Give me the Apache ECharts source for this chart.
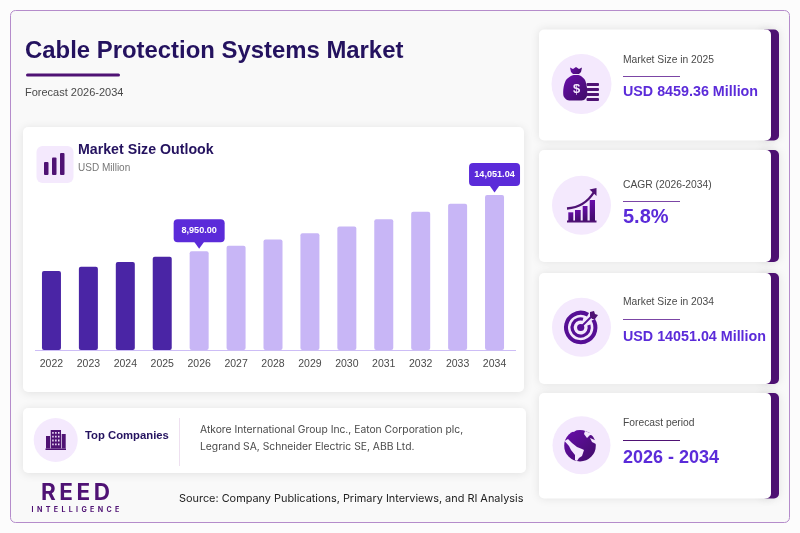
<!DOCTYPE html>
<html><head><meta charset="utf-8">
<style>html,body{margin:0;padding:0;background:#fff}#c{width:800px;height:533px}</style>
<script src="https://cdn.jsdelivr.net/npm/echarts@6/dist/echarts.min.js"></script>
</head><body><div id="c"></div>
<script>
const years=['2022','2023','2024','2025','2026','2027','2028','2029','2030','2031','2032','2033','2034'];
const historical=[7160,7550,7980,8459.36,null,null,null,null,null,null,null,null,null];
const forecast=[null,null,null,null,8950,9455,10020,10600,11195,11870,12540,13265,14051.04];
const calloutYears=['2026','2034'];
const statLabels=['Market Size in 2025','CAGR (2026-2034)','Market Size in 2034','Forecast period'];
const statValues=['USD 8459.36 Million','5.8%','USD 14051.04 Million','2026 - 2034'];
const companies=['Atkore International Group Inc., Eaton Corporation plc,','Legrand SA, Schneider Electric SE, ABB Ltd.'];

const SANS='"Liberation Sans",Arial,sans-serif', INTER='Inter,sans-serif';
const NAVY='#24125f',PURPLE='#4f1274',VIOLET='#5b2bd9',TINT='#f4e9fd';
const iconFill={type:'linear',x:0,y:0,x2:1,y2:1,colorStops:[{offset:0,color:'#6a0dad'},{offset:1,color:'#3f0d66'}]};
const g=[];
const rect=(x,y,w,h,r,fill,extra)=>g.push({type:'rect',shape:{x,y,width:w,height:h,r},style:Object.assign({fill},extra||{})});
const card=(x,y,w,h,r)=>rect(x,y,w,h,r,'#fff',{shadowBlur:10,shadowColor:'rgba(0,0,0,0.10)',shadowOffsetY:1});
const txt=(x,y,text,size,fill,weight,font,align)=>g.push({type:'text',x,y,style:{text,fontSize:size,fill,fontWeight:weight||'normal',fontFamily:font||SANS,align:align||'left',verticalAlign:'middle'}});
const circ=(cx,cy,r,fill)=>g.push({type:'circle',shape:{cx,cy,r},style:{fill}});
const poly=(points,fill,smooth)=>g.push({type:'polygon',shape:{points,smooth:smooth||0},style:{fill}});

// frame
rect(10.5,10.5,779,512,5,'#f9f9f9',{stroke:'#b58ccb',lineWidth:1});
txt(25,51,'Cable Protection Systems Market',23.9,NAVY,'bold');
rect(26,73.5,94,3,1.5,PURPLE);
txt(25,92.5,'Forecast 2026-2034',11,'#4a4a4a');

// chart card
card(23,127,501,265,5);
rect(36.5,146,37,37,6,TINT);
[[44,162,4.5,13],[52,157.5,4.5,17.5],[60,153,4.5,22]].forEach(b=>rect(b[0],b[1],b[2],b[3],1,PURPLE));
txt(78,150,'Market Size Outlook',14.2,NAVY,'bold');
txt(78,168,'USD Million',10,'#777');
rect(35,350,481,1,0,'#cdbdf6');

// companies card
card(23,408,503,65,5);
circ(55.7,440,22,TINT);
rect(46,436,4,12.5,0,PURPLE);rect(50.7,430,10.3,18.5,0,PURPLE);rect(61.7,434,4,14.5,0,PURPLE);rect(45.5,448.5,20.5,1.5,0,PURPLE);
for(let i=0;i<4;i++)for(let j=0;j<3;j++)rect(52.2+j*2.9,432+i*3.8,1.5,1.8,0,'#f0e2fa');
txt(85,435.5,'Top Companies',11.3,NAVY,'bold');
rect(179,418,1,48,0,'#eee0f0');
txt(200,430,companies[0],10.3,'#4a4a4a','normal',INTER);
txt(200,446.5,companies[1],10.3,'#4a4a4a','normal',INTER);

// logo + source
txt(75.5,493.5,'R\u2009E\u2009E\u2009D',22.5,PURPLE,'bold',INTER,'center');
txt(75.5,509.5,'I\u2009\u2009\u2009N\u2009\u2009\u2009T\u2009\u2009\u2009E\u2009\u2009\u2009L\u2009\u2009\u2009L\u2009\u2009\u2009I\u2009\u2009\u2009G\u2009\u2009\u2009E\u2009\u2009\u2009N\u2009\u2009\u2009C\u2009\u2009\u2009E',7.1,PURPLE,'bold',INTER,'center');
txt(179,498.5,'Source: Company Publications, Primary Interviews, and RI Analysis',10.9,'#222','normal',INTER);

// stat cards
const cards=[
 {y:29.5,h:111,cy:84,r:30,ly:60,ry:76,vy:92,vs:14.3},
 {y:150,h:112,cy:205.3,r:29.5,ly:185,ry:201,vy:217.5,vs:20},
 {y:273,h:111,cy:327.3,r:29.5,ly:302,ry:319,vy:337,vs:14.3},
 {y:393,h:105.5,cy:445.3,r:29,ly:423,ry:440,vy:458.5,vs:18}
];
cards.forEach((c,i)=>{
 rect(761,c.y,18,c.h,5,PURPLE,{shadowBlur:10,shadowColor:'rgba(0,0,0,0.10)'});
 rect(539,c.y,232,c.h,5,'#fff',{shadowBlur:10,shadowColor:'rgba(0,0,0,0.10)'});
 circ(581.5,c.cy,c.r,TINT);
 txt(623,c.ly,statLabels[i],10.3,'#4a4a4a');
 rect(623,c.ry,57,1,0,i==3?'#4f1274':'#7b45a5');
 txt(623,c.vy,statValues[i],c.vs,VIOLET,'bold');
});
// money bag
poly([[570,67.5],[573,69],[576,67],[579,69],[582,67.5],[581,72],[579,74],[573,74],[571,72]],iconFill);
poly([[572,75.5],[580,75.5],[585,80],[587,88],[587,96],[584,100],[575,100.5],[567,100],[563.5,96],[563.5,88],[566,80]],iconFill,0.25);
txt(576.5,89.5,'$',13,'#f4e9fd','bold',SANS,'center');
[83,88,93,98].forEach(y=>rect(586.5,y,12.5,3,1,PURPLE));
// growth icon
[[568.3,212.3,5,9],[575,210,5.7,11],[582.7,206,4.8,15],[589.7,200,5.3,21]].forEach(b=>rect(b[0],b[1],b[2],b[3],0,iconFill));
rect(567,220.5,29.5,2,0,PURPLE);
g.push({type:'bezierCurve',shape:{x1:567,y1:208.5,cpx1:585,cpy1:207,x2:594,y2:192},style:{fill:'none',stroke:PURPLE,lineWidth:2.4}});
poly([[589.5,189.5],[596.5,188],[596.5,196]],PURPLE);
// target
g.push({type:'arc',shape:{cx:580.7,cy:327.5,r:14.7,startAngle:-0.55,endAngle:-1.05,clockwise:true},style:{fill:'none',stroke:'#560f95',lineWidth:4}});
g.push({type:'arc',shape:{cx:580.7,cy:327.5,r:8.6,startAngle:-0.3,endAngle:-1.3,clockwise:true},style:{fill:'none',stroke:'#560f95',lineWidth:3.2}});
circ(580.7,327.5,3.6,'#560f95');
g.push({type:'line',shape:{x1:581,y1:327,x2:593,y2:315},style:{stroke:'#560f95',lineWidth:1.8}});
poly([[590,316],[590,312],[594,311],[595,314],[598,315],[595,319],[592,319]],'#4f1274');
// globe
circ(580,445.7,15.8,iconFill);
poly([[564.5,441],[568,439],[572,443],[577,447],[582,449],[584,450],[582,456],[579,458],[577,461],[575,460],[575,455],[571,450],[569,446]],TINT);
poly([[570,430],[578,428],[574,432]],TINT);
poly([[585,431],[597,436],[590,435],[587,438],[584,434]],TINT);
poly([[590,438],[597,441],[596,444],[592,442]],TINT);

const chart=echarts.init(document.getElementById('c'));
const calloutData=calloutYears.map(y=>({coord:[y,forecast[years.indexOf(y)]]}));
chart.setOption({
 animation:false,
 backgroundColor:'#fcfcfc',
 graphic:{elements:g},
 grid:{left:33,width:480,top:180,height:170,containLabel:false},
 xAxis:{type:'category',data:years,axisLine:{show:false},axisTick:{show:false},
   axisLabel:{fontSize:10.5,color:'#4a4a4a',fontFamily:SANS,margin:8.5,interval:0}},
 yAxis:{type:'value',min:0,max:15420,show:false,splitLine:{show:false}},
 series:[
  {type:'bar',name:'Historical',stack:'s',barWidth:19,data:historical,z:5,
   itemStyle:{color:'#4a25a5',borderRadius:2}},
  {type:'bar',name:'Forecast',stack:'s',barWidth:19,z:5,
   data:forecast.map((v,i)=>({value:v,label:{show:calloutYears.includes(years[i])}})),
   itemStyle:{color:'#c8b6f6',borderRadius:2},
   label:{position:'top',distance:9,formatter:p=>p.value.toLocaleString('en-US',{minimumFractionDigits:2}),
     width:41,align:'center',
     fontSize:9.1,fontWeight:'bold',fontFamily:SANS,color:'#fff',backgroundColor:VIOLET,borderRadius:4,padding:[7,5,7,5]},
   markPoint:{silent:true,symbol:'triangle',symbolRotate:180,symbolSize:[10,7],symbolOffset:[0,-6],
     itemStyle:{color:VIOLET},label:{show:false},data:calloutData}}
 ]
});
</script></body></html>
